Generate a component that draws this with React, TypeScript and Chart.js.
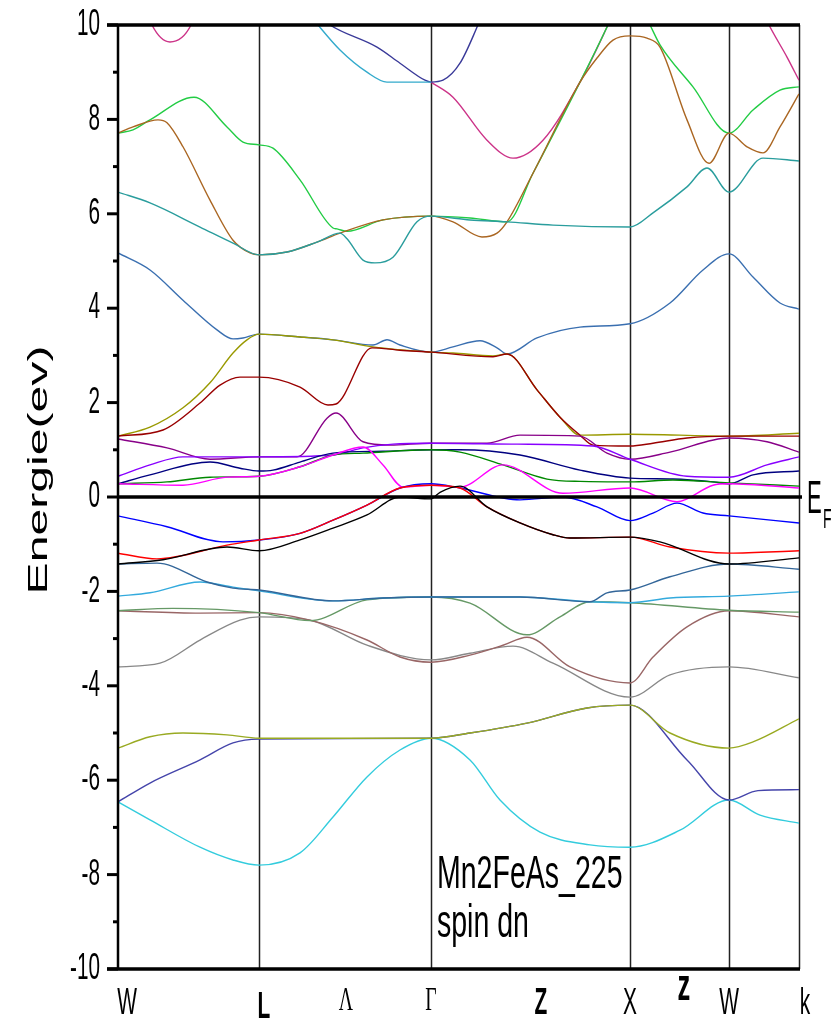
import React, { useEffect, useRef } from 'react';
import { Chart, registerables } from 'chart.js';

Chart.register(...registerables);

type P = [number, number][];

// symmetry points along the k-path: W, L, Γ, X, W, K
const kPoints = [0, 141, 313, 512, 611, 681];
const xTickPos = [9, 146, 228, 313, 423, 512, 566, 611, 687];
const xTickLabels = ['W', 'L', 'Λ', 'Γ', 'Z', 'X', 'z', 'W', 'k'];
const yTickValues = [-10, -9, -8, -7, -6, -5, -4, -3, -2, -1, 0, 1, 2, 3, 4, 5, 6, 7, 8, 9, 10];
const yTickLabels = ['-10', '', '-8', '', '-6', '', '-4', '', '-2', '', '0', '', '2', '', '4', '', '6', '', '8', '', '10'];

const bMagentaTop: P = [[10, 11.5], [34, 10], [52, 9.64], [73, 10], [95, 11.5]];
const bGreenUp: P = [[0, 7.71], [15, 7.78], [32, 7.99], [76, 8.47], [109, 7.84], [125, 7.52], [141, 7.46], [155, 7.39], [182, 6.72], [215, 5.7], [219, 5.68], [229, 5.63], [265, 5.87], [313, 5.95], [352, 5.91], [389, 5.83], [415, 6.86], [462, 8.79], [490, 10], [505, 10.7]];
const bGreenRight: P = [[512, 10.8], [532, 10], [542, 9.58], [575, 8.69], [611, 7.71], [635, 8.2], [662, 8.62], [681, 8.69]];
const bBrown: P = [[0, 7.71], [15, 7.84], [40, 7.99], [49, 7.93], [65, 7.42], [92, 6.29], [115, 5.44], [132, 5.17], [141, 5.13], [169, 5.19], [199, 5.4], [222, 5.59], [265, 5.87], [313, 5.95], [335, 5.83], [364, 5.51], [379, 5.59], [389, 5.83], [415, 6.86], [462, 8.79], [479, 9.3], [495, 9.68], [512, 9.77], [529, 9.72], [542, 9.53], [569, 7.99], [591, 7.07], [611, 7.71], [629, 7.42], [645, 7.29], [662, 7.84], [681, 8.54]];
const bTeal: P = [[0, 6.46], [32, 6.23], [82, 5.72], [115, 5.38], [141, 5.13], [169, 5.19], [199, 5.4], [222, 5.59], [229, 5.47], [245, 5.02], [257, 4.96], [275, 5.08], [299, 5.83], [313, 5.95], [352, 5.87], [389, 5.83], [435, 5.76], [512, 5.72], [535, 6.02], [569, 6.57], [589, 6.97], [611, 6.46], [645, 7.18], [681, 7.12]];
const bCyanTop: P = [[185, 10.4], [200, 10], [222, 9.47], [249, 9.0], [269, 8.79], [313, 8.79]];
const bNavyTop: P = [[195, 10.3], [212, 10], [259, 9.53], [282, 9.19], [307, 8.83], [313, 8.79], [325, 8.83], [342, 9.19], [360, 10], [372, 10.6]];
const bMagentaMid: P = [[313, 8.79], [335, 8.47], [369, 7.56], [395, 7.18], [425, 7.56], [462, 8.79], [490, 10], [505, 10.7]];
const bMagentaRight: P = [[640, 10.5], [651, 10], [669, 9.32], [681, 8.83]];
const bSteel: P = [[0, 5.17], [32, 4.81], [65, 4.17], [99, 3.54], [115, 3.35], [125, 3.37], [141, 3.45], [182, 3.39], [215, 3.33], [255, 3.22], [269, 3.33], [282, 3.22], [313, 3.07], [335, 3.18], [362, 3.31], [379, 3.16], [389, 3.03], [419, 3.37], [462, 3.6], [512, 3.67], [552, 4.11], [585, 4.81], [611, 5.15], [635, 4.66], [662, 4.11], [681, 3.98]];
const bOlive: P = [[0, 1.29], [32, 1.48], [65, 1.89], [92, 2.42], [115, 3.05], [129, 3.33], [141, 3.45], [182, 3.39], [215, 3.33], [255, 3.18], [313, 3.07], [335, 3.05], [375, 2.99], [389, 3.03], [419, 2.27], [442, 1.69], [462, 1.31], [512, 1.33], [611, 1.29], [681, 1.35]];
const bMaroon: P = [[0, 1.29], [45, 1.42], [82, 1.99], [102, 2.37], [122, 2.54], [141, 2.54], [182, 2.33], [210, 1.95], [218, 1.97], [254, 3.16], [282, 3.11], [313, 3.07], [375, 2.97], [389, 3.03], [419, 2.27], [442, 1.69], [462, 1.31], [475, 1.1], [512, 1.08], [535, 1.14], [569, 1.25], [611, 1.29], [681, 1.29]];
const bDarkPurple: P = [[0, 1.23], [49, 1.04], [92, 0.8], [141, 0.85], [179, 0.85], [209, 1.67], [218, 1.78], [245, 1.17], [272, 1.1], [313, 1.14], [369, 1.14], [402, 1.31], [462, 1.29], [489, 0.93], [512, 0.8], [552, 0.95], [611, 1.25], [649, 1.17], [681, 0.95]];
const bViolet: P = [[0, 0.44], [32, 0.68], [65, 0.85], [141, 0.85], [215, 0.89], [245, 1.04], [275, 1.12], [313, 1.14], [400, 1.12], [475, 1.08], [512, 0.8], [569, 0.44], [611, 0.42], [649, 0.68], [681, 0.85]];
const bNavy: P = [[0, 0.28], [32, 0.47], [92, 0.74], [122, 0.61], [141, 0.55], [155, 0.57], [182, 0.74], [215, 0.93], [265, 0.97], [313, 1.0], [342, 1.0], [402, 0.89], [462, 0.57], [512, 0.4], [555, 0.38], [595, 0.32], [611, 0.28], [635, 0.47], [681, 0.55]];
const bDarkGreen: P = [[0, 0.28], [49, 0.32], [92, 0.42], [141, 0.44], [182, 0.64], [215, 0.89], [245, 0.93], [313, 1.0], [342, 0.95], [385, 0.68], [429, 0.38], [462, 0.33], [512, 0.32], [555, 0.36], [611, 0.3], [681, 0.23]];
const bMagenta: P = [[0, 0.28], [65, 0.25], [109, 0.42], [141, 0.44], [182, 0.64], [215, 0.89], [245, 1.06], [265, 0.68], [285, 0.21], [313, 0.25], [342, 0.21], [385, 0.68], [445, 0.08], [512, 0.19], [559, -0.1], [595, 0.25], [611, 0.28], [681, 0.19]];
const bBlue: P = [[0, -0.4], [49, -0.63], [105, -0.95], [141, -0.91], [182, -0.77], [215, -0.49], [249, -0.17], [282, 0.19], [313, 0.28], [342, 0.19], [402, -0.06], [445, 0.0], [479, -0.21], [512, -0.5], [535, -0.34], [559, -0.13], [585, -0.34], [611, -0.4], [681, -0.55]];
const bRed: P = [[0, -1.19], [39, -1.31], [109, -1.02], [141, -0.91], [182, -0.77], [215, -0.49], [249, -0.17], [282, 0.19], [313, 0.25], [342, 0.19], [369, -0.21], [402, -0.55], [435, -0.8], [452, -0.87], [512, -0.85], [552, -1.06], [611, -1.19], [681, -1.14]];
const bBlack: P = [[0, -1.42], [45, -1.33], [109, -1.06], [141, -1.14], [182, -0.91], [215, -0.66], [249, -0.38], [282, 0.0], [313, -0.04], [322, 0.1], [342, 0.23], [369, -0.21], [402, -0.55], [435, -0.8], [452, -0.87], [512, -0.85], [542, -0.95], [611, -1.42], [681, -1.29]];
const bSteel2: P = [[0, -1.42], [39, -1.4], [89, -1.8], [115, -1.93], [141, -1.97], [215, -2.2], [265, -2.14], [313, -2.12], [402, -2.12], [472, -2.22], [489, -2.03], [512, -1.97], [552, -1.69], [611, -1.42], [681, -1.53]];
const bSky: P = [[0, -2.1], [32, -2.03], [82, -1.8], [115, -1.91], [141, -1.99], [215, -2.2], [265, -2.14], [313, -2.12], [402, -2.12], [472, -2.22], [512, -2.24], [552, -2.14], [611, -2.1], [681, -2.01]];
const bSage: P = [[0, -2.41], [55, -2.36], [141, -2.45], [192, -2.62], [249, -2.18], [313, -2.12], [352, -2.25], [409, -2.92], [442, -2.54], [472, -2.22], [512, -2.24], [611, -2.4], [681, -2.44]];
const bRosy: P = [[0, -2.41], [82, -2.46], [141, -2.45], [192, -2.61], [249, -3.03], [282, -3.39], [313, -3.5], [352, -3.35], [385, -3.14], [409, -2.97], [452, -3.6], [512, -3.94], [535, -3.39], [569, -2.75], [611, -2.41], [681, -2.54]];
const bGray: P = [[0, -3.6], [42, -3.52], [82, -3.03], [122, -2.61], [141, -2.54], [192, -2.61], [249, -3.14], [313, -3.45], [352, -3.31], [395, -3.16], [435, -3.52], [512, -4.24], [552, -3.77], [611, -3.6], [681, -3.83]];
const bYellowGreen: P = [[0, -5.32], [32, -5.08], [65, -5.0], [109, -5.04], [141, -5.11], [313, -5.11], [352, -5.0], [409, -4.79], [469, -4.47], [512, -4.41], [552, -5.0], [611, -5.32], [635, -5.19], [681, -4.7]];
const bSlate: P = [[0, -6.46], [32, -6.06], [82, -5.57], [115, -5.21], [141, -5.13], [313, -5.11], [352, -5.0], [409, -4.79], [469, -4.47], [512, -4.41], [569, -5.57], [611, -6.42], [640, -6.22], [681, -6.2]];
const bCyan: P = [[0, -6.46], [32, -6.84], [82, -7.42], [115, -7.69], [141, -7.8], [182, -7.54], [215, -6.78], [249, -5.93], [282, -5.36], [313, -5.11], [352, -5.57], [382, -6.42], [422, -7.1], [472, -7.37], [512, -7.42], [562, -7.06], [611, -6.42], [642, -6.74], [681, -6.91]];

const bands: { data: P; color: string }[] = [
  { data: bBlack, color: '#000000' },
  { data: bRed, color: '#ff0000' },
  { data: bBlue, color: '#0000ff' },
  { data: bMagenta, color: '#ff00ff' },
  { data: bDarkGreen, color: '#008800' },
  { data: bNavy, color: '#000080' },
  { data: bViolet, color: '#8800ff' },
  { data: bDarkPurple, color: '#880088' },
  { data: bMaroon, color: '#990000' },
  { data: bOlive, color: '#999900' },
  { data: bSteel, color: '#3a6fb0' },
  { data: bTeal, color: '#2a9d9d' },
  { data: bBrown, color: '#aa6622' },
  { data: bGreenUp, color: '#22cc44' },
  { data: bGreenRight, color: '#22cc44' },
  { data: bCyanTop, color: '#33aacc' },
  { data: bNavyTop, color: '#3a3a99' },
  { data: bMagentaMid, color: '#cc3388' },
  { data: bMagentaRight, color: '#cc3388' },
  { data: bMagentaTop, color: '#cc3388' },
  { data: bSteel2, color: '#336699' },
  { data: bSky, color: '#33aadd' },
  { data: bSage, color: '#669966' },
  { data: bRosy, color: '#996666' },
  { data: bGray, color: '#888888' },
  { data: bYellowGreen, color: '#99aa22' },
  { data: bSlate, color: '#4444aa' },
  { data: bCyan, color: '#33ccdd' },
];

function squishText(
  ctx: CanvasRenderingContext2D,
  text: string,
  x: number,
  y: number,
  font: string,
  sx: number,
  align: CanvasTextAlign,
  baseline: CanvasTextBaseline,
  rot = 0,
) {
  ctx.save();
  ctx.translate(x, y);
  if (rot) ctx.rotate(rot);
  ctx.scale(sx, 1);
  ctx.font = font;
  ctx.fillStyle = '#000';
  ctx.textAlign = align;
  ctx.textBaseline = baseline;
  ctx.fillText(text, 0, 0);
  ctx.restore();
}

const SANS = '"Liberation Sans", Arial, sans-serif';

const framePlugin = {
  id: 'bandFrame',
  beforeDatasetsDraw(chart: any) {
    const { ctx, chartArea, scales } = chart;
    const xs = scales.x;
    ctx.save();
    ctx.strokeStyle = '#222';
    ctx.lineWidth = 1.5;
    kPoints.slice(1).forEach((k) => {
      const px = Math.round(xs.getPixelForValue(k)) + 0.5;
      ctx.beginPath();
      ctx.moveTo(px, chartArea.top);
      ctx.lineTo(px, chartArea.bottom);
      ctx.stroke();
    });
    ctx.restore();
  },
  afterDatasetsDraw(chart: any) {
    const { ctx, chartArea, scales } = chart;
    const xs = scales.x;
    const ys = scales.y;
    const L = chartArea.left;
    const R = chartArea.right;
    ctx.save();
    ctx.strokeStyle = '#000';
    const y0 = ys.getPixelForValue(0);
    ctx.lineWidth = 3.5;
    ctx.beginPath();
    ctx.moveTo(L, y0);
    ctx.lineTo(R + 3, y0);
    ctx.stroke();
    ctx.lineWidth = 3.5;
    ctx.beginPath();
    ctx.moveTo(L - 11, chartArea.top);
    ctx.lineTo(R + 1, chartArea.top);
    ctx.moveTo(L - 11, chartArea.bottom);
    ctx.lineTo(R + 1, chartArea.bottom);
    ctx.stroke();
    ctx.lineWidth = 2.5;
    ctx.beginPath();
    ctx.moveTo(L, chartArea.top);
    ctx.lineTo(L, chartArea.bottom);
    ctx.stroke();
    ctx.lineWidth = 3;
    yTickValues.forEach((v, i) => {
      const py = ys.getPixelForValue(v);
      const len = yTickLabels[i] ? 11 : 5;
      ctx.beginPath();
      ctx.moveTo(L - len, py);
      ctx.lineTo(L, py);
      ctx.stroke();
      if (yTickLabels[i]) {
        squishText(ctx, yTickLabels[i], L - 18, py, `37px ${SANS}`, 0.56, 'right', 'middle');
      }
    });
    xTickLabels.forEach((lab, i) => {
      const px = xs.getPixelForValue(xTickPos[i]);
      const serif = lab === 'Λ' || lab === 'Γ';
      const bold = lab === 'L' || lab === 'Z' || lab === 'z';
      const size = lab === 'z' ? 44 : serif ? 34 : 36;
      const font = `${bold ? 'bold ' : ''}${size}px ${serif ? '"Liberation Serif", serif' : SANS}`;
      const by = lab === 'z' ? 1000 : lab === 'L' ? 1018 : serif ? 1010 : 1014;
      squishText(ctx, lab, px, by, font, 0.58, 'center', 'alphabetic');
    });
    squishText(ctx, 'Energie(ev)', 47, 470, `28px ${SANS}`, 1.72, 'center', 'alphabetic', -Math.PI / 2);
    squishText(ctx, 'Mn2FeAs_225', 437, 888, `46px ${SANS}`, 0.62, 'left', 'alphabetic');
    squishText(ctx, 'spin dn', 437, 937, `46px ${SANS}`, 0.62, 'left', 'alphabetic');
    squishText(ctx, 'E', R + 8, y0 + 16, `47px ${SANS}`, 0.47, 'left', 'alphabetic');
    squishText(ctx, 'F', R + 24, y0 + 31, `28px ${SANS}`, 0.5, 'left', 'alphabetic');
    ctx.restore();
  },
};

export default function App() {
  const ref = useRef<HTMLCanvasElement | null>(null);
  useEffect(() => {
    if (!ref.current) return;
    const chart = new Chart(ref.current, {
      type: 'line',
      data: {
        datasets: bands.map((b) => ({
          data: b.data.map(([x, y]) => ({ x, y })),
          borderColor: b.color,
          backgroundColor: b.color,
          borderWidth: 1.4,
          pointRadius: 0,
          fill: false,
          cubicInterpolationMode: 'monotone' as const,
        })),
      },
      options: {
        responsive: false,
        animation: false,
        events: [],
        layout: { padding: { top: 25, right: 36, left: 0, bottom: 0 } },
        plugins: { legend: { display: false }, tooltip: { enabled: false }, title: { display: false } },
        scales: {
          x: {
            type: 'linear',
            min: kPoints[0],
            max: kPoints[kPoints.length - 1],
            ticks: { display: false },
            grid: { display: false },
            border: { display: false },
            afterFit: (s: any) => {
              s.height = 51;
            },
          },
          y: {
            type: 'linear',
            min: -10,
            max: 10,
            ticks: { display: false },
            grid: { display: false },
            border: { display: false },
            afterFit: (s: any) => {
              s.width = 118;
            },
          },
        },
      },
      plugins: [framePlugin],
    });
    return () => chart.destroy();
  }, []);
  return (
    <div style={{ position: 'absolute', left: 0, top: 0, width: 835, height: 1020, background: '#fff' }}>
      <canvas ref={ref} width={835} height={1020} style={{ width: 835, height: 1020 }} />
    </div>
  );
}
